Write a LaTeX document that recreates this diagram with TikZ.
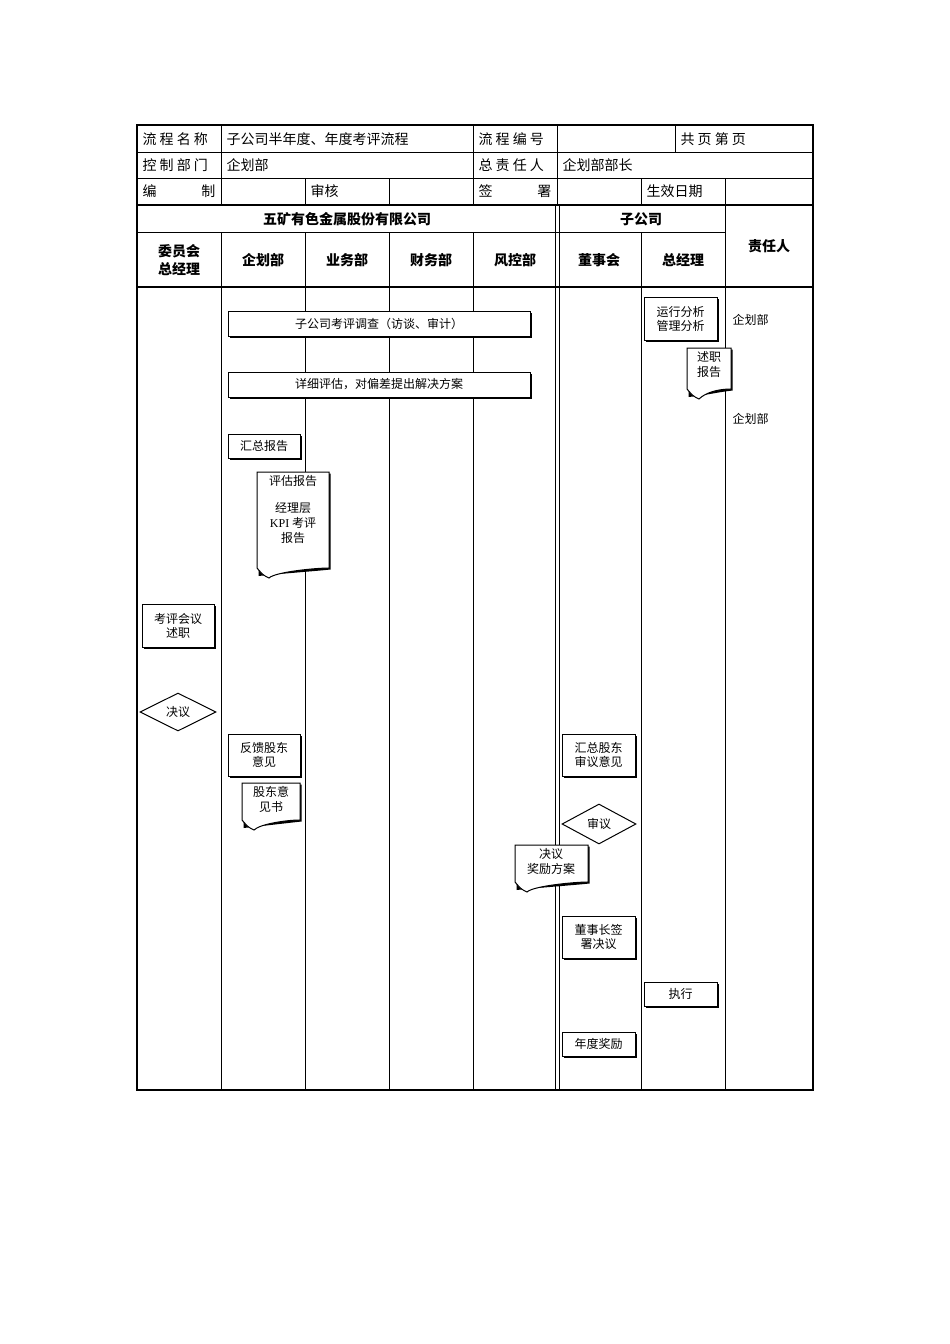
\documentclass[tikz,border=0pt]{standalone}
\usepackage{fontspec}
\setmainfont{Noto Sans CJK SC}
\newfontfamily\latinf{Liberation Serif}
\usetikzlibrary{positioning,calc,shadows,shapes.geometric}

\tikzset{
  grid/.style={line width=0.8pt},
  frame/.style={line width=2pt},
  stepbox/.style={draw, line width=1pt, fill=white, inner sep=2pt, align=center, font=\fontsize{12}{14}\selectfont,
    drop shadow={shadow xshift=1.5pt, shadow yshift=-1.5pt, fill=black, opacity=1}},
  decide/.style={draw, diamond, aspect=2, line width=1pt, fill=white, inner sep=1pt, font=\fontsize{12}{14}\selectfont},
  cell/.style={anchor=west, font=\fontsize{14}{16}\selectfont},
  head/.style={font=\bfseries\fontsize{14}{18}\selectfont, align=center},
  doctext/.style={align=center, font=\fontsize{12}{15}\selectfont, inner sep=1pt},
  note/.style={font=\fontsize{12}{14}\selectfont, anchor=west}
}
% document shape: x1 y1 x2 y2 (y of straight sides end)
\newcommand{\docpath}[4]{%
  \fill[black] ($(#1,#2)+(1.5,1.5)$) -- ($(#3,#2)+(1.5,1.5)$) -- ($(#3,#4)+(1.5,1.5)$)
     .. controls ($(#3,#4)+(-12,3)$) and ($(#1,#4)+(20,6)$) .. ($(#1,#4)+(1.5,8)$) -- cycle;
  \filldraw[fill=white, line width=1pt] (#1,#2) -- (#3,#2) -- (#3,#4)
     .. controls ($(#3,#4)+(-14,0)$) and ($(#1,#4)+(18,4)$) .. ($(#1,#4)+(12,10)$)
     .. controls ($(#1,#4)+(6,7)$) .. (#1,#4) -- cycle;}

\begin{document}
\begin{tikzpicture}[x=1pt, y=-1pt]
  \useasboundingbox (0,0) rectangle (950,1344);

  % header table
  \draw[grid] (137,152) -- (813,152) (137,178) -- (813,178);
  \draw[grid] (221,125) -- (221,205) (473,125) -- (473,205) (557,125) -- (557,205);
  \draw[grid] (675,125) -- (675,152);
  \draw[grid] (305,178) -- (305,205) (389,178) -- (389,205) (641,178) -- (641,205) (725,178) -- (725,205);
  \draw[frame] (137,205) -- (813,205);

  \node[cell] (name) at (139,139) {流 程 名 称};
  \node[cell] (namev) at (223,139) {子公司半年度、年度考评流程};
  \node[cell] (code) at (475,139) {流 程 编 号};
  \node[cell] (page) at (677,139) {共  页 第  页};
  \node[cell] (ctrl) at (139,165) {控 制 部 门};
  \node[cell] (ctrlv) at (223,165) {企划部};
  \node[cell] (resp) at (475,165) {总 责 任 人};
  \node[cell] (respv) at (559,165) {企划部部长};
  \node[cell] (make) at (139,191) {编};
  \node[cell, anchor=east] (make2) at (219,191) {制};
  \node[cell] (check) at (307,191) {审核};
  \node[cell] (sign) at (475,191) {签};
  \node[cell, anchor=east] (sign2) at (555,191) {署};
  \node[cell] (date) at (643,191) {生效日期};

  % lane header
  \draw[grid] (137,232) -- (725,232);
  \draw[frame] (137,287) -- (813,287);
  \draw[grid] (725,205) -- (725,1090);
  \foreach \x in {221,305,389,473,641} \draw[grid] (\x,232) -- (\x,1090);
  \draw[grid] (555,205) -- (555,1090) (559,205) -- (559,1090);
  \node[head] (co) at (347,219) {五矿有色金属股份有限公司};
  \node[head] (sub) at (641,219) {子公司};
  \node[head] (duty) at (769,246) {责任人};
  \node[head] (l1) at (179,260) {委员会\\总经理};
  \node[head] (l2) at (263,260) {企划部};
  \node[head] (l3) at (347,260) {业务部};
  \node[head] (l4) at (431,260) {财务部};
  \node[head] (l5) at (515,260) {风控部};
  \node[head] (l6) at (599,260) {董事会};
  \node[head] (l7) at (683,260) {总经理};

  \draw[frame] (137,125) rectangle (813,1090);

  % steps
  \node[stepbox, minimum width=302pt, minimum height=25pt] (survey) at (379,323.5) {子公司考评调查（访谈、审计）};
  \node[stepbox, minimum width=302pt, minimum height=25pt] (eval) at (379,384.5) {详细评估，对偏差提出解决方案};
  \node[stepbox, minimum width=72pt, minimum height=24pt] (sum) at (264,446) {汇总报告};
  \node[stepbox, minimum width=73pt, minimum height=43pt] (run) at (680.5,318.5) {运行分析\\管理分析};
  \node[stepbox, minimum width=72pt, minimum height=43pt] (meet) at (178,625.5) {考评会议\\述职};
  \node[decide, minimum width=76pt, minimum height=38pt] (vote) at (178,712) {决议};
  \node[stepbox, minimum width=72pt, minimum height=42pt] (feed) at (264,755) {反馈股东\\意见};
  \node[stepbox, minimum width=73pt, minimum height=42pt] (collect) at (598.5,755) {汇总股东\\审议意见};
  \node[decide, minimum width=74pt, minimum height=40pt] (review) at (599,824) {审议};
  \node[stepbox, minimum width=73pt, minimum height=42pt] (chair) at (598.5,937) {董事长签\\署决议};
  \node[stepbox, minimum width=73pt, minimum height=24pt] (exec) at (680.5,994) {执行};
  \node[stepbox, minimum width=73pt, minimum height=24pt] (award) at (598.5,1044) {年度奖励};

  % documents
  \docpath{257}{472}{329}{568}
  \node[doctext, anchor=north] (evalrep) at (293,474) {评估报告\\[12pt]经理层\\{\latinf KPI} 考评\\报告};
  \docpath{687}{348}{731}{389}
  \node[doctext, anchor=north] (speech) at (709,350) {述职\\报告};
  \docpath{242}{783}{300}{820}
  \node[doctext, anchor=north] (holder) at (271,785) {股东意\\见书};
  \docpath{515}{845}{588}{882}
  \node[doctext, anchor=north] (plan) at (551,847) {决议\\奖励方案};

  % responsible
  \node[note] (r1) at (729,320) {企划部};
  \node[note] (r2) at (729,419) {企划部};
\end{tikzpicture}
\end{document}
